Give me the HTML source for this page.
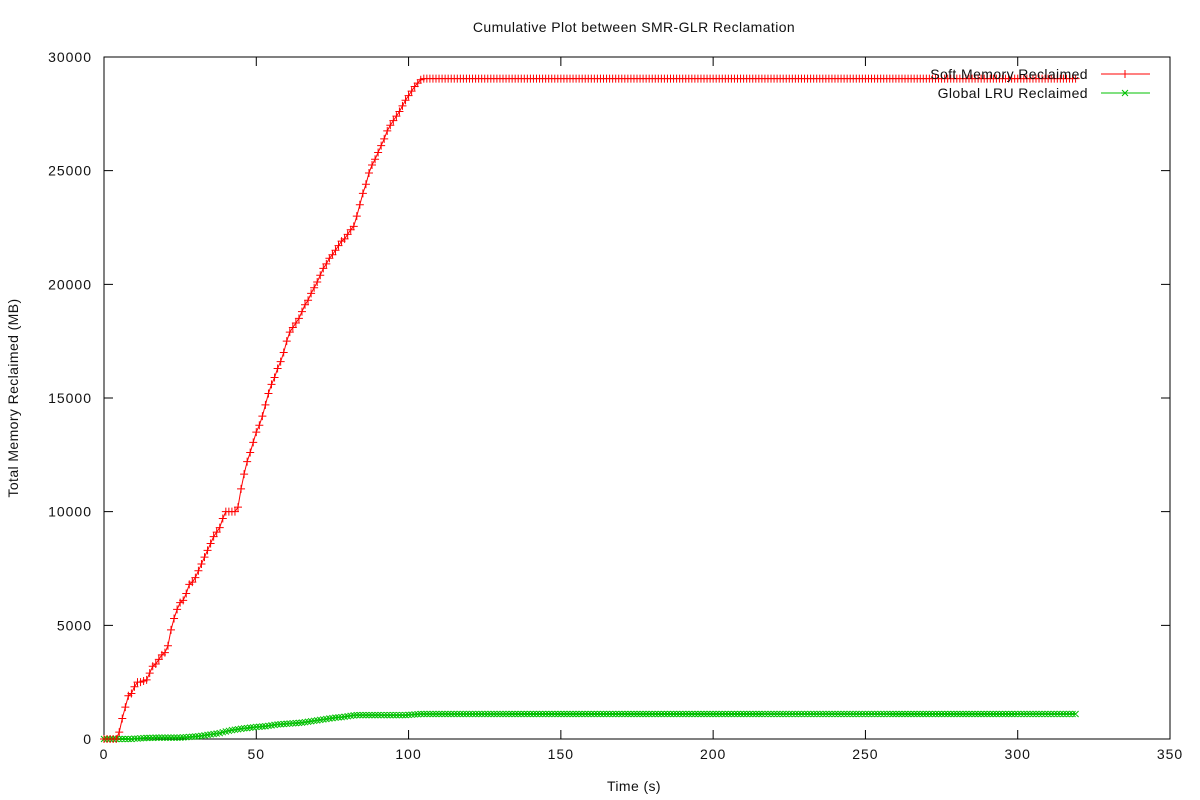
<!DOCTYPE html>
<html><head><meta charset="utf-8"><style>
html,body{margin:0;padding:0;background:#fff}
svg{display:block;font-family:"Liberation Sans",Arial,sans-serif;font-size:14px;letter-spacing:0.4px}
.tick{letter-spacing:1px}
</style></head><body>
<svg id="chart" width="1200" height="800" xmlns="http://www.w3.org/2000/svg">
<text x="634" y="32" text-anchor="middle" fill="#111">Cumulative Plot between SMR-GLR Reclamation</text>
<text x="634" y="791" text-anchor="middle" fill="#111">Time (s)</text>
<text transform="translate(18,398) rotate(-90)" text-anchor="middle" fill="#111">Total Memory Reclaimed (MB)</text>
<g id="axes"></g>
<g id="series"></g>
<g id="legend"></g>
</svg>
<script>
const xTicks = [0, 50, 100, 150, 200, 250, 300, 350];
const yTicks = [0, 5000, 10000, 15000, 20000, 25000, 30000];
const seriesNames = ["Soft Memory Reclaimed", "Global LRU Reclaimed"];
const softRise = [0,0,0,0,0,300,900,1400,1900,2000,2300,2500,2500,2550,2600,2900,3200,3300,3500,3700,3800,4100,4800,5300,5700,6000,6100,6400,6800,6900,7100,7400,7700,8000,8300,8600,8900,9100,9300,9700,10000,10000,10000,10000,10200,11000,11650,12200,12600,13050,13500,13800,14200,14700,15200,15600,15900,16300,16600,17000,17500,17900,18100,18300,18500,18800,19100,19300,19600,19850,20100,20400,20700,20900,21150,21300,21500,21700,21900,22000,22200,22400,22550,23000,23500,24000,24400,24900,25250,25500,25800,26100,26400,26750,27000,27200,27400,27600,27850,28100,28300,28500,28700,28850,29000,29050];
const softPlateau = 29050;
const lruRise = [0,0,0,0,0,0,0,0,0,0,20,20,30,40,50,50,50,60,60,60,60,60,60,60,60,60,70,80,90,100,110,120,140,160,180,200,220,240,260,300,330,360,390,410,430,450,470,480,500,510,530,540,550,560,580,600,620,640,650,660,670,680,690,700,710,720,740,760,780,800,820,840,860,880,900,920,940,950,960,980,1000,1020,1040,1050,1050,1050,1050,1050,1050,1050,1050,1050,1050,1050,1050,1050,1050,1050,1050,1050,1060,1070,1080,1090,1100,1100];
const lruPlateau = 1100;
const lastTime = 319;

const NS = "http://www.w3.org/2000/svg";
const L = 104, R = 1170, T = 57, B = 739;
const xMin = 0, xMax = 350, yMin = 0, yMax = 30000;
const X = v => L + (v - xMin) / (xMax - xMin) * (R - L);
const Y = v => B - (v - yMin) / (yMax - yMin) * (B - T);
function mk(tag, attrs, parent) {
  const e = document.createElementNS(NS, tag);
  for (const k in attrs) e.setAttribute(k, attrs[k]);
  parent.appendChild(e);
  return e;
}
function full(rise, plateau) {
  const out = rise.slice();
  for (let t = rise.length; t <= lastTime; t++) out.push(plateau);
  return out;
}
const soft = full(softRise, softPlateau);
const lru = full(lruRise, lruPlateau);

const axes = document.getElementById('axes');
const frame = mk('rect', {x: L, y: T, width: R - L, height: B - T, fill: 'none', stroke: '#000', 'stroke-width': 1}, axes);


xTicks.forEach(v => {
  const x = X(v);
  const t1 = mk('path', {d: `M${x} ${B}v-9M${x} ${T}v9`, stroke: '#000', fill: 'none'}, axes);
  
  
  const lb = mk('text', {x: x, y: B + 20, 'text-anchor': 'middle', fill: '#111', class: 'tick'}, axes);
  lb.textContent = v;
  
  
});
yTicks.forEach(v => {
  const y = Y(v);
  const t1 = mk('path', {d: `M${L} ${y}h9M${R} ${y}h-9`, stroke: '#000', fill: 'none'}, axes);
  
  
  const lb = mk('text', {x: L - 12, y: y + 5, 'text-anchor': 'end', fill: '#111', class: 'tick'}, axes);
  lb.textContent = v;
  
  
});

const sg = document.getElementById('series');
function drawSeries(vals, color, kind, name) {
  const g = mk('g', {}, sg);
  
  
  const pts = vals.map((v, i) => X(i).toFixed(2) + ',' + Y(v).toFixed(2)).join(' ');
  const line = mk('polyline', {points: pts, fill: 'none', stroke: color, 'stroke-width': 1}, g);
  
  
  let d = '';
  vals.forEach((v, i) => {
    const x = X(i), y = Y(v);
    if (kind === '+') d += `M${x - 4} ${y}h8M${x} ${y - 4}v8`;
    else d += `M${x - 3} ${y - 3}l6 6M${x - 3} ${y + 3}l6 -6`;
  });
  const m = mk('path', {d: d, stroke: color, 'stroke-width': 1, fill: 'none'}, g);
  
  
}
drawSeries(lru, '#00c000', 'x', 'global-lru-series');
drawSeries(soft, '#ff0000', '+', 'soft-memory-series');

const lg = document.getElementById('legend');
[[seriesNames[0], '#ff0000', '+', 74], [seriesNames[1], '#00c000', 'x', 93]].forEach(([nm, c, k, y]) => {
  const t = mk('text', {x: 1088, y: y + 5, 'text-anchor': 'end', fill: '#111'}, lg);
  t.textContent = nm;
  
  
  const d = k === '+' ? `M1101 ${y}h49M1121 ${y}h8M1125 ${y - 4}v8` : `M1101 ${y}h49M1122 ${y - 3}l6 6M1122 ${y + 3}l6 -6`;
  const p = mk('path', {d: d, stroke: c, fill: 'none'}, lg);
  
  
});
</script>
</body></html>
